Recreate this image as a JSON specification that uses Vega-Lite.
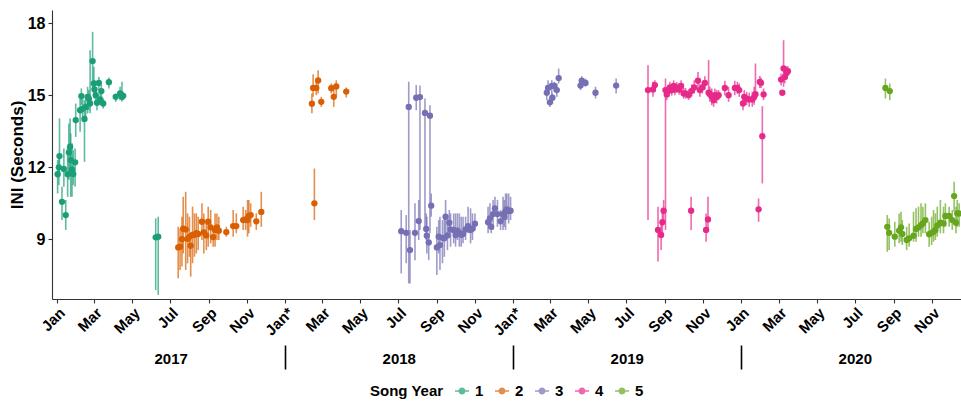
{
  "$schema": "https://vega.github.io/schema/vega-lite/v6.json",
  "width": 909,
  "height": 289,
  "autosize": {"type": "none"},
  "padding": {"left": 52, "top": 10, "right": 0, "bottom": 102},
  "background": "white",
  "config": {
    "view": {"stroke": null},
    "font": "Liberation Sans",
    "axisY": {
      "titleFontSize": 17,
      "titleFontWeight": "bold",
      "titleColor": "black",
      "titlePadding": 1,
      "grid": false,
      "labelFontSize": 16,
      "labelFontWeight": "bold",
      "labelColor": "black",
      "labelPadding": 3,
      "domainColor": "#333333",
      "domainWidth": 1.1,
      "tickColor": "#333333",
      "tickSize": 4,
      "tickWidth": 1.1
    },
    "legend": {
      "orient": "none",
      "legendX": 318,
      "legendY": 373,
      "direction": "horizontal",
      "titleOrient": "left",
      "titleFontSize": 15,
      "titleFontWeight": "bold",
      "titleColor": "black",
      "titlePadding": 10,
      "titleBaseline": "middle",
      "labelFontSize": 15,
      "labelFontWeight": "bold",
      "labelColor": "black",
      "labelOffset": 5,
      "columnPadding": 8,
      "symbolType": "M-1,0H1M-0.4,0A0.4,0.4 0 1,1 0.4,0A0.4,0.4 0 1,1 -0.4,0Z",
      "symbolSize": 196,
      "symbolStrokeWidth": 1.4
    }
  },
  "data": {"values": [
    {"d":"2017-01-02","v":11.70,"lo":10.90,"hi":12.29,"s":"1"},
    {"d":"2017-01-04","v":11.99,"lo":11.25,"hi":12.57,"s":"1"},
    {"d":"2017-01-05","v":12.46,"lo":11.60,"hi":14.03,"s":"1"},
    {"d":"2017-01-09","v":10.55,"lo":9.79,"hi":11.18,"s":"1"},
    {"d":"2017-01-12","v":11.92,"lo":11.18,"hi":12.78,"s":"1"},
    {"d":"2017-01-15","v":10.00,"lo":9.38,"hi":10.63,"s":"1"},
    {"d":"2017-01-18","v":11.70,"lo":10.76,"hi":12.85,"s":"1"},
    {"d":"2017-01-20","v":12.61,"lo":11.46,"hi":13.82,"s":"1"},
    {"d":"2017-01-22","v":12.85,"lo":11.74,"hi":14.03,"s":"1"},
    {"d":"2017-01-23","v":12.29,"lo":10.76,"hi":13.40,"s":"1"},
    {"d":"2017-01-25","v":11.90,"lo":10.76,"hi":12.99,"s":"1"},
    {"d":"2017-01-27","v":11.71,"lo":11.25,"hi":12.71,"s":"1"},
    {"d":"2017-01-30","v":12.20,"lo":11.18,"hi":12.78,"s":"1"},
    {"d":"2017-01-31","v":13.96,"lo":13.26,"hi":14.65,"s":"1"},
    {"d":"2017-02-07","v":14.37,"lo":13.47,"hi":14.93,"s":"1"},
    {"d":"2017-02-09","v":14.96,"lo":14.58,"hi":15.28,"s":"1"},
    {"d":"2017-02-11","v":14.43,"lo":13.89,"hi":14.93,"s":"1"},
    {"d":"2017-02-14","v":14.01,"lo":12.22,"hi":14.79,"s":"1"},
    {"d":"2017-02-16","v":14.51,"lo":14.10,"hi":15.00,"s":"1"},
    {"d":"2017-02-19","v":14.93,"lo":14.24,"hi":15.35,"s":"1"},
    {"d":"2017-02-21","v":14.85,"lo":14.37,"hi":15.21,"s":"1"},
    {"d":"2017-02-23","v":14.65,"lo":14.24,"hi":16.87,"s":"1"},
    {"d":"2017-02-27","v":16.42,"lo":15.21,"hi":17.64,"s":"1"},
    {"d":"2017-03-01","v":15.49,"lo":14.93,"hi":16.18,"s":"1"},
    {"d":"2017-03-02","v":15.24,"lo":14.86,"hi":15.62,"s":"1"},
    {"d":"2017-03-04","v":15.00,"lo":14.65,"hi":15.35,"s":"1"},
    {"d":"2017-03-06","v":14.68,"lo":14.37,"hi":15.00,"s":"1"},
    {"d":"2017-03-09","v":15.51,"lo":15.21,"hi":15.76,"s":"1"},
    {"d":"2017-03-11","v":14.82,"lo":14.58,"hi":15.07,"s":"1"},
    {"d":"2017-03-13","v":15.17,"lo":14.86,"hi":15.42,"s":"1"},
    {"d":"2017-03-16","v":14.65,"lo":14.44,"hi":14.86,"s":"1"},
    {"d":"2017-03-25","v":15.54,"lo":15.28,"hi":15.74,"s":"1"},
    {"d":"2017-04-05","v":14.93,"lo":14.72,"hi":15.07,"s":"1"},
    {"d":"2017-04-12","v":15.07,"lo":14.79,"hi":15.35,"s":"1"},
    {"d":"2017-04-15","v":14.93,"lo":14.72,"hi":15.56,"s":"1"},
    {"d":"2017-04-17","v":14.97,"lo":14.79,"hi":15.14,"s":"1"},
    {"d":"2017-06-08","v":9.07,"lo":6.87,"hi":9.86,"s":"1"},
    {"d":"2017-06-12","v":9.10,"lo":6.67,"hi":9.93,"s":"1"},

    {"d":"2017-07-14","v":8.65,"lo":7.36,"hi":9.51,"s":"2"},
    {"d":"2017-07-17","v":8.68,"lo":7.71,"hi":9.44,"s":"2"},
    {"d":"2017-07-20","v":8.99,"lo":7.85,"hi":9.93,"s":"2"},
    {"d":"2017-07-22","v":9.43,"lo":8.40,"hi":10.76,"s":"2"},
    {"d":"2017-07-26","v":9.40,"lo":7.71,"hi":10.97,"s":"2"},
    {"d":"2017-07-29","v":9.01,"lo":7.99,"hi":10.07,"s":"2"},
    {"d":"2017-08-01","v":9.10,"lo":8.26,"hi":9.93,"s":"2"},
    {"d":"2017-08-03","v":8.72,"lo":7.43,"hi":9.24,"s":"2"},
    {"d":"2017-08-06","v":9.17,"lo":7.99,"hi":10.35,"s":"2"},
    {"d":"2017-08-09","v":9.18,"lo":8.26,"hi":10.07,"s":"2"},
    {"d":"2017-08-12","v":9.24,"lo":8.40,"hi":10.07,"s":"2"},
    {"d":"2017-08-15","v":9.21,"lo":8.54,"hi":9.93,"s":"2"},
    {"d":"2017-08-21","v":9.72,"lo":8.96,"hi":10.49,"s":"2"},
    {"d":"2017-08-24","v":9.28,"lo":8.40,"hi":10.07,"s":"2"},
    {"d":"2017-08-28","v":9.15,"lo":8.54,"hi":9.79,"s":"2"},
    {"d":"2017-08-31","v":9.72,"lo":8.68,"hi":10.35,"s":"2"},
    {"d":"2017-09-04","v":9.49,"lo":8.82,"hi":10.21,"s":"2"},
    {"d":"2017-09-08","v":9.08,"lo":8.68,"hi":9.51,"s":"2"},
    {"d":"2017-09-11","v":9.38,"lo":8.68,"hi":10.07,"s":"2"},
    {"d":"2017-09-14","v":9.49,"lo":8.96,"hi":10.07,"s":"2"},
    {"d":"2017-09-17","v":9.35,"lo":8.96,"hi":9.93,"s":"2"},
    {"d":"2017-09-29","v":9.29,"lo":9.10,"hi":9.51,"s":"2"},
    {"d":"2017-10-10","v":9.54,"lo":9.10,"hi":10.21,"s":"2"},
    {"d":"2017-10-15","v":9.54,"lo":9.24,"hi":10.07,"s":"2"},
    {"d":"2017-10-26","v":9.79,"lo":9.38,"hi":10.35,"s":"2"},
    {"d":"2017-10-30","v":9.82,"lo":9.38,"hi":10.21,"s":"2"},
    {"d":"2017-11-02","v":9.79,"lo":9.10,"hi":10.63,"s":"2"},
    {"d":"2017-11-04","v":9.96,"lo":9.24,"hi":10.63,"s":"2"},
    {"d":"2017-11-07","v":10.00,"lo":9.51,"hi":10.49,"s":"2"},
    {"d":"2017-11-16","v":9.74,"lo":9.38,"hi":10.07,"s":"2"},
    {"d":"2017-11-24","v":10.13,"lo":9.51,"hi":10.97,"s":"2"},
    {"d":"2018-02-13","v":14.64,"lo":14.24,"hi":15.07,"s":"2"},
    {"d":"2018-02-15","v":15.30,"lo":14.93,"hi":15.87,"s":"2"},
    {"d":"2018-02-17","v":10.49,"lo":9.79,"hi":11.94,"s":"2"},
    {"d":"2018-02-20","v":15.30,"lo":15.00,"hi":15.56,"s":"2"},
    {"d":"2018-02-23","v":15.61,"lo":15.07,"hi":16.04,"s":"2"},
    {"d":"2018-02-28","v":14.72,"lo":14.51,"hi":14.93,"s":"2"},
    {"d":"2018-03-16","v":15.29,"lo":15.07,"hi":15.49,"s":"2"},
    {"d":"2018-03-20","v":14.93,"lo":14.51,"hi":15.42,"s":"2"},
    {"d":"2018-03-24","v":15.36,"lo":14.93,"hi":15.62,"s":"2"},
    {"d":"2018-04-09","v":15.15,"lo":14.90,"hi":15.32,"s":"2"},

    {"d":"2018-07-06","v":9.33,"lo":7.57,"hi":10.21,"s":"3"},
    {"d":"2018-07-14","v":9.26,"lo":7.99,"hi":10.00,"s":"3"},
    {"d":"2018-07-18","v":14.51,"lo":7.15,"hi":15.56,"s":"3"},
    {"d":"2018-07-20","v":8.54,"lo":7.15,"hi":9.38,"s":"3"},
    {"d":"2018-07-28","v":9.26,"lo":8.12,"hi":10.49,"s":"3"},
    {"d":"2018-07-30","v":14.89,"lo":14.37,"hi":15.42,"s":"3"},
    {"d":"2018-08-03","v":9.75,"lo":8.96,"hi":10.63,"s":"3"},
    {"d":"2018-08-05","v":14.92,"lo":9.38,"hi":15.40,"s":"3"},
    {"d":"2018-08-13","v":14.26,"lo":9.38,"hi":14.86,"s":"3"},
    {"d":"2018-08-15","v":9.42,"lo":8.96,"hi":10.07,"s":"3"},
    {"d":"2018-08-16","v":9.14,"lo":8.40,"hi":9.93,"s":"3"},
    {"d":"2018-08-19","v":8.86,"lo":8.12,"hi":9.24,"s":"3"},
    {"d":"2018-08-21","v":14.14,"lo":9.24,"hi":14.58,"s":"3"},
    {"d":"2018-08-23","v":10.39,"lo":9.93,"hi":10.90,"s":"3"},
    {"d":"2018-09-01","v":8.65,"lo":7.50,"hi":9.51,"s":"3"},
    {"d":"2018-09-04","v":9.10,"lo":8.40,"hi":9.79,"s":"3"},
    {"d":"2018-09-06","v":8.75,"lo":7.71,"hi":9.93,"s":"3"},
    {"d":"2018-09-10","v":9.05,"lo":7.99,"hi":9.79,"s":"3"},
    {"d":"2018-09-13","v":9.03,"lo":8.26,"hi":9.93,"s":"3"},
    {"d":"2018-09-15","v":9.93,"lo":8.96,"hi":10.63,"s":"3"},
    {"d":"2018-09-18","v":9.15,"lo":8.54,"hi":9.93,"s":"3"},
    {"d":"2018-09-21","v":9.68,"lo":9.10,"hi":10.21,"s":"3"},
    {"d":"2018-09-23","v":9.40,"lo":8.68,"hi":10.07,"s":"3"},
    {"d":"2018-09-28","v":9.38,"lo":8.82,"hi":10.07,"s":"3"},
    {"d":"2018-10-01","v":9.17,"lo":8.68,"hi":10.07,"s":"3"},
    {"d":"2018-10-04","v":9.35,"lo":8.96,"hi":10.07,"s":"3"},
    {"d":"2018-10-07","v":9.24,"lo":8.68,"hi":10.07,"s":"3"},
    {"d":"2018-10-10","v":9.18,"lo":8.68,"hi":9.93,"s":"3"},
    {"d":"2018-10-13","v":9.21,"lo":8.82,"hi":9.93,"s":"3"},
    {"d":"2018-10-17","v":9.40,"lo":8.96,"hi":9.93,"s":"3"},
    {"d":"2018-10-21","v":9.54,"lo":9.24,"hi":10.35,"s":"3"},
    {"d":"2018-10-25","v":9.38,"lo":8.82,"hi":10.28,"s":"3"},
    {"d":"2018-10-28","v":9.43,"lo":8.96,"hi":10.07,"s":"3"},
    {"d":"2018-11-01","v":9.64,"lo":9.38,"hi":10.07,"s":"3"},
    {"d":"2018-11-22","v":9.70,"lo":9.24,"hi":10.35,"s":"3"},
    {"d":"2018-11-25","v":9.86,"lo":9.51,"hi":10.49,"s":"3"},
    {"d":"2018-11-27","v":9.51,"lo":9.24,"hi":10.07,"s":"3"},
    {"d":"2018-11-30","v":10.04,"lo":9.38,"hi":10.63,"s":"3"},
    {"d":"2018-12-03","v":10.28,"lo":10.07,"hi":10.76,"s":"3"},
    {"d":"2018-12-07","v":10.04,"lo":9.51,"hi":10.63,"s":"3"},
    {"d":"2018-12-12","v":9.74,"lo":9.38,"hi":10.21,"s":"3"},
    {"d":"2018-12-16","v":10.04,"lo":9.38,"hi":10.76,"s":"3"},
    {"d":"2018-12-18","v":9.93,"lo":9.51,"hi":10.63,"s":"3"},
    {"d":"2018-12-20","v":10.15,"lo":9.38,"hi":10.90,"s":"3"},
    {"d":"2018-12-22","v":10.24,"lo":9.79,"hi":10.90,"s":"3"},
    {"d":"2018-12-25","v":10.17,"lo":9.65,"hi":10.90,"s":"3"},
    {"d":"2018-12-28","v":10.18,"lo":9.79,"hi":10.76,"s":"3"},
    {"d":"2019-02-24","v":15.10,"lo":14.79,"hi":15.42,"s":"3"},
    {"d":"2019-02-26","v":15.30,"lo":15.07,"hi":15.62,"s":"3"},
    {"d":"2019-03-01","v":14.70,"lo":14.51,"hi":14.93,"s":"3"},
    {"d":"2019-03-04","v":15.39,"lo":15.00,"hi":15.62,"s":"3"},
    {"d":"2019-03-05","v":14.89,"lo":14.65,"hi":15.07,"s":"3"},
    {"d":"2019-03-08","v":15.38,"lo":15.14,"hi":15.56,"s":"3"},
    {"d":"2019-03-12","v":15.21,"lo":14.93,"hi":15.49,"s":"3"},
    {"d":"2019-03-15","v":15.71,"lo":15.49,"hi":16.11,"s":"3"},
    {"d":"2019-04-19","v":15.40,"lo":15.21,"hi":15.69,"s":"3"},
    {"d":"2019-04-21","v":15.60,"lo":15.38,"hi":15.79,"s":"3"},
    {"d":"2019-04-27","v":15.51,"lo":15.35,"hi":15.69,"s":"3"},
    {"d":"2019-05-13","v":15.10,"lo":14.86,"hi":15.35,"s":"3"},
    {"d":"2019-06-15","v":15.40,"lo":15.07,"hi":15.69,"s":"3"},

    {"d":"2019-08-05","v":15.21,"lo":9.79,"hi":16.25,"s":"4"},
    {"d":"2019-08-13","v":15.24,"lo":14.93,"hi":15.56,"s":"4"},
    {"d":"2019-08-16","v":15.42,"lo":15.14,"hi":15.62,"s":"4"},
    {"d":"2019-08-21","v":9.38,"lo":8.06,"hi":10.35,"s":"4"},
    {"d":"2019-08-26","v":9.17,"lo":8.54,"hi":9.79,"s":"4"},
    {"d":"2019-08-28","v":9.70,"lo":9.24,"hi":10.21,"s":"4"},
    {"d":"2019-08-30","v":10.18,"lo":9.79,"hi":10.63,"s":"4"},
    {"d":"2019-09-02","v":15.21,"lo":9.38,"hi":15.69,"s":"4"},
    {"d":"2019-09-04","v":15.03,"lo":14.79,"hi":15.28,"s":"4"},
    {"d":"2019-09-07","v":15.18,"lo":14.93,"hi":15.42,"s":"4"},
    {"d":"2019-09-09","v":15.32,"lo":15.07,"hi":15.56,"s":"4"},
    {"d":"2019-09-12","v":15.21,"lo":14.98,"hi":15.45,"s":"4"},
    {"d":"2019-09-15","v":15.38,"lo":15.12,"hi":15.62,"s":"4"},
    {"d":"2019-09-17","v":15.24,"lo":15.00,"hi":15.49,"s":"4"},
    {"d":"2019-09-20","v":15.32,"lo":15.10,"hi":15.55,"s":"4"},
    {"d":"2019-09-24","v":15.24,"lo":15.02,"hi":15.50,"s":"4"},
    {"d":"2019-09-27","v":15.38,"lo":15.14,"hi":15.62,"s":"4"},
    {"d":"2019-10-01","v":15.07,"lo":14.86,"hi":15.30,"s":"4"},
    {"d":"2019-10-04","v":15.07,"lo":14.85,"hi":15.30,"s":"4"},
    {"d":"2019-10-09","v":15.00,"lo":14.80,"hi":15.24,"s":"4"},
    {"d":"2019-10-13","v":10.18,"lo":9.38,"hi":10.76,"s":"4"},
    {"d":"2019-10-14","v":15.18,"lo":14.95,"hi":15.45,"s":"4"},
    {"d":"2019-10-18","v":15.32,"lo":15.07,"hi":15.62,"s":"4"},
    {"d":"2019-10-24","v":15.60,"lo":15.28,"hi":15.97,"s":"4"},
    {"d":"2019-10-27","v":15.21,"lo":14.93,"hi":15.45,"s":"4"},
    {"d":"2019-10-31","v":15.32,"lo":15.07,"hi":15.56,"s":"4"},
    {"d":"2019-11-04","v":15.51,"lo":15.24,"hi":15.79,"s":"4"},
    {"d":"2019-11-06","v":9.38,"lo":8.89,"hi":10.07,"s":"4"},
    {"d":"2019-11-09","v":9.82,"lo":9.38,"hi":10.76,"s":"4"},
    {"d":"2019-11-10","v":15.10,"lo":14.93,"hi":16.46,"s":"4"},
    {"d":"2019-11-12","v":15.04,"lo":14.72,"hi":15.35,"s":"4"},
    {"d":"2019-11-15","v":14.93,"lo":14.58,"hi":15.28,"s":"4"},
    {"d":"2019-11-18","v":14.79,"lo":14.51,"hi":15.07,"s":"4"},
    {"d":"2019-11-20","v":15.00,"lo":14.72,"hi":15.28,"s":"4"},
    {"d":"2019-11-23","v":14.93,"lo":14.65,"hi":15.21,"s":"4"},
    {"d":"2019-11-26","v":15.00,"lo":14.79,"hi":15.21,"s":"4"},
    {"d":"2019-12-06","v":15.30,"lo":15.00,"hi":15.60,"s":"4"},
    {"d":"2019-12-12","v":15.00,"lo":14.72,"hi":15.35,"s":"4"},
    {"d":"2019-12-22","v":15.30,"lo":15.00,"hi":15.60,"s":"4"},
    {"d":"2019-12-26","v":15.30,"lo":15.05,"hi":15.56,"s":"4"},
    {"d":"2019-12-29","v":15.21,"lo":14.93,"hi":15.49,"s":"4"},
    {"d":"2020-01-04","v":14.65,"lo":14.37,"hi":15.00,"s":"4"},
    {"d":"2020-01-06","v":14.93,"lo":14.65,"hi":15.21,"s":"4"},
    {"d":"2020-01-10","v":14.85,"lo":14.58,"hi":15.14,"s":"4"},
    {"d":"2020-01-14","v":14.82,"lo":14.51,"hi":15.10,"s":"4"},
    {"d":"2020-01-19","v":14.82,"lo":14.51,"hi":15.14,"s":"4"},
    {"d":"2020-01-22","v":14.93,"lo":14.60,"hi":15.35,"s":"4"},
    {"d":"2020-01-24","v":15.04,"lo":14.79,"hi":16.32,"s":"4"},
    {"d":"2020-01-29","v":10.24,"lo":9.72,"hi":10.69,"s":"4"},
    {"d":"2020-01-31","v":15.55,"lo":15.30,"hi":15.80,"s":"4"},
    {"d":"2020-02-02","v":15.51,"lo":15.30,"hi":15.72,"s":"4"},
    {"d":"2020-02-04","v":13.29,"lo":11.32,"hi":14.54,"s":"4"},
    {"d":"2020-02-06","v":15.03,"lo":14.79,"hi":15.28,"s":"4"},
    {"d":"2020-03-05","v":15.65,"lo":15.40,"hi":15.90,"s":"4"},
    {"d":"2020-03-07","v":15.10,"lo":15.00,"hi":15.20,"s":"4"},
    {"d":"2020-03-09","v":16.11,"lo":15.35,"hi":17.29,"s":"4"},
    {"d":"2020-03-11","v":15.76,"lo":15.50,"hi":16.05,"s":"4"},
    {"d":"2020-03-14","v":15.93,"lo":15.65,"hi":16.20,"s":"4"},
    {"d":"2020-03-16","v":16.00,"lo":15.80,"hi":16.20,"s":"4"},

    {"d":"2020-08-19","v":15.30,"lo":14.86,"hi":15.69,"s":"5"},
    {"d":"2020-08-26","v":15.17,"lo":14.79,"hi":15.49,"s":"5"},
    {"d":"2020-08-22","v":9.51,"lo":8.47,"hi":10.00,"s":"5"},
    {"d":"2020-08-25","v":9.26,"lo":8.54,"hi":9.86,"s":"5"},
    {"d":"2020-09-03","v":9.10,"lo":8.68,"hi":9.72,"s":"5"},
    {"d":"2020-09-10","v":9.35,"lo":8.82,"hi":10.07,"s":"5"},
    {"d":"2020-09-13","v":9.49,"lo":8.89,"hi":10.14,"s":"5"},
    {"d":"2020-09-15","v":9.21,"lo":8.75,"hi":9.79,"s":"5"},
    {"d":"2020-09-22","v":8.96,"lo":8.54,"hi":9.51,"s":"5"},
    {"d":"2020-09-26","v":9.03,"lo":8.68,"hi":9.65,"s":"5"},
    {"d":"2020-10-03","v":9.14,"lo":8.89,"hi":10.14,"s":"5"},
    {"d":"2020-10-07","v":9.42,"lo":8.89,"hi":10.28,"s":"5"},
    {"d":"2020-10-11","v":9.49,"lo":9.10,"hi":10.35,"s":"5"},
    {"d":"2020-10-15","v":9.58,"lo":9.10,"hi":10.49,"s":"5"},
    {"d":"2020-10-18","v":9.65,"lo":9.24,"hi":10.35,"s":"5"},
    {"d":"2020-10-22","v":9.79,"lo":9.24,"hi":10.49,"s":"5"},
    {"d":"2020-10-28","v":9.20,"lo":8.68,"hi":9.72,"s":"5"},
    {"d":"2020-11-01","v":9.26,"lo":8.75,"hi":9.93,"s":"5"},
    {"d":"2020-11-04","v":9.30,"lo":8.89,"hi":10.21,"s":"5"},
    {"d":"2020-11-07","v":9.38,"lo":8.96,"hi":10.07,"s":"5"},
    {"d":"2020-11-10","v":9.56,"lo":9.10,"hi":10.35,"s":"5"},
    {"d":"2020-11-15","v":9.68,"lo":9.24,"hi":10.63,"s":"5"},
    {"d":"2020-11-20","v":9.65,"lo":9.24,"hi":10.35,"s":"5"},
    {"d":"2020-11-23","v":9.96,"lo":9.51,"hi":10.49,"s":"5"},
    {"d":"2020-11-29","v":9.96,"lo":9.51,"hi":10.35,"s":"5"},
    {"d":"2020-12-04","v":9.79,"lo":9.38,"hi":10.21,"s":"5"},
    {"d":"2020-12-07","v":10.79,"lo":10.14,"hi":11.39,"s":"5"},
    {"d":"2020-12-10","v":9.68,"lo":9.24,"hi":10.35,"s":"5"},
    {"d":"2020-12-12","v":10.07,"lo":9.51,"hi":10.63,"s":"5"},
    {"d":"2020-12-15","v":10.07,"lo":9.51,"hi":10.49,"s":"5"}
  ]},
  "layer": [
    {
      "mark": {"type": "rule", "strokeWidth": 1.6, "opacity": 0.7},
      "encoding": {
        "x": {
          "field": "d", "type": "temporal",
          "scale": {"type": "utc", "domain": [{"year": 2016, "month": 12, "date": 24, "utc": true}, {"year": 2020, "month": 12, "date": 18, "utc": true}]},
          "axis": {
            "orient": "bottom",
            "title": null,
            "grid": false,
            "values": [
              {"year": 2017, "month": 1, "date": 1, "utc": true}, {"year": 2017, "month": 3, "date": 1, "utc": true}, {"year": 2017, "month": 5, "date": 1, "utc": true}, {"year": 2017, "month": 7, "date": 1, "utc": true}, {"year": 2017, "month": 9, "date": 1, "utc": true}, {"year": 2017, "month": 11, "date": 1, "utc": true},
              {"year": 2018, "month": 1, "date": 1, "utc": true}, {"year": 2018, "month": 3, "date": 1, "utc": true}, {"year": 2018, "month": 5, "date": 1, "utc": true}, {"year": 2018, "month": 7, "date": 1, "utc": true}, {"year": 2018, "month": 9, "date": 1, "utc": true}, {"year": 2018, "month": 11, "date": 1, "utc": true},
              {"year": 2019, "month": 1, "date": 1, "utc": true}, {"year": 2019, "month": 3, "date": 1, "utc": true}, {"year": 2019, "month": 5, "date": 1, "utc": true}, {"year": 2019, "month": 7, "date": 1, "utc": true}, {"year": 2019, "month": 9, "date": 1, "utc": true}, {"year": 2019, "month": 11, "date": 1, "utc": true},
              {"year": 2020, "month": 1, "date": 1, "utc": true}, {"year": 2020, "month": 3, "date": 1, "utc": true}, {"year": 2020, "month": 5, "date": 1, "utc": true}, {"year": 2020, "month": 7, "date": 1, "utc": true}, {"year": 2020, "month": 9, "date": 1, "utc": true}, {"year": 2020, "month": 11, "date": 1, "utc": true}
            ],
            "labelExpr": "utcFormat(datum.value, '%b') + ((utcmonth(datum.value) == 0 && (utcyear(datum.value) == 2018 || utcyear(datum.value) == 2019)) ? '*' : '')",
            "labelAngle": -45,
            "labelAlign": "right",
            "labelBaseline": "top",
            "labelPadding": 2,
            "labelFontSize": 15,
            "labelFontWeight": "bold",
            "labelColor": "black",
            "labelOverlap": false,
            "labelFlush": false,
            "domainColor": "#333333",
            "domainWidth": 1.1,
            "tickColor": "#333333",
            "tickSize": 4,
            "tickWidth": 1.1
          }
        },
        "y": {"field": "lo", "type": "quantitative", "scale": {"domain": [6.5, 18.55], "nice": false, "zero": false}, "axis": {"title": "INI (Seconds)", "values": [9, 12, 15, 18]}},
        "y2": {"field": "hi"},
        "color": {
          "field": "s", "type": "nominal",
          "scale": {"domain": ["1", "2", "3", "4", "5"], "range": ["#1b9e77", "#d95f02", "#7570b3", "#e7298a", "#66a61e"]},
          "legend": {
            "title": "Song Year",
            "encode": {"symbols": {"update": {"fill": {"scale": "color", "field": "value"}, "stroke": {"scale": "color", "field": "value"}, "opacity": {"value": 1}, "fillOpacity": {"value": 1}, "strokeOpacity": {"value": 1}}}}
          }
        }
      }
    },
    {
      "mark": {"type": "point", "filled": true, "size": 40, "opacity": 1},
      "encoding": {
        "x": {
          "field": "d", "type": "temporal",
          "axis": {
            "orient": "bottom",
            "offset": 46,
            "title": null,
            "grid": false,
            "domain": false,
            "values": [
              {"year": 2017, "month": 7, "date": 2, "utc": true},
              {"year": 2018, "month": 1, "date": 1, "utc": true},
              {"year": 2018, "month": 7, "date": 2, "utc": true},
              {"year": 2019, "month": 1, "date": 1, "utc": true},
              {"year": 2019, "month": 7, "date": 2, "utc": true},
              {"year": 2020, "month": 1, "date": 1, "utc": true},
              {"year": 2020, "month": 7, "date": 1, "utc": true}
            ],
            "labelExpr": "utcmonth(datum.value) == 0 ? '' : utcFormat(datum.value, '%Y')",
            "labelAngle": 0,
            "labelAlign": "center",
            "labelBaseline": "middle",
            "labelPadding": -11,
            "labelFontSize": 15,
            "labelFontWeight": "bold",
            "labelColor": "black",
            "labelOverlap": false,
            "labelFlush": false,
            "tickSize": 24,
            "tickWidth": 1.6,
            "tickColor": "black",
            "tickOpacity": {"condition": {"test": "utcmonth(datum.value) == 0", "value": 1}, "value": 0}
          }
        },
        "y": {"field": "v", "type": "quantitative", "axis": {"title": "INI (Seconds)", "values": [9, 12, 15, 18]}},
        "color": {
          "field": "s", "type": "nominal",
          "legend": {
            "title": "Song Year",
            "encode": {"symbols": {"update": {"fill": {"scale": "color", "field": "value"}, "stroke": {"scale": "color", "field": "value"}, "opacity": {"value": 1}, "fillOpacity": {"value": 1}, "strokeOpacity": {"value": 1}}}}
          }
        }
      }
    }
  ],
  "resolve": {"axis": {"x": "independent"}}
}
